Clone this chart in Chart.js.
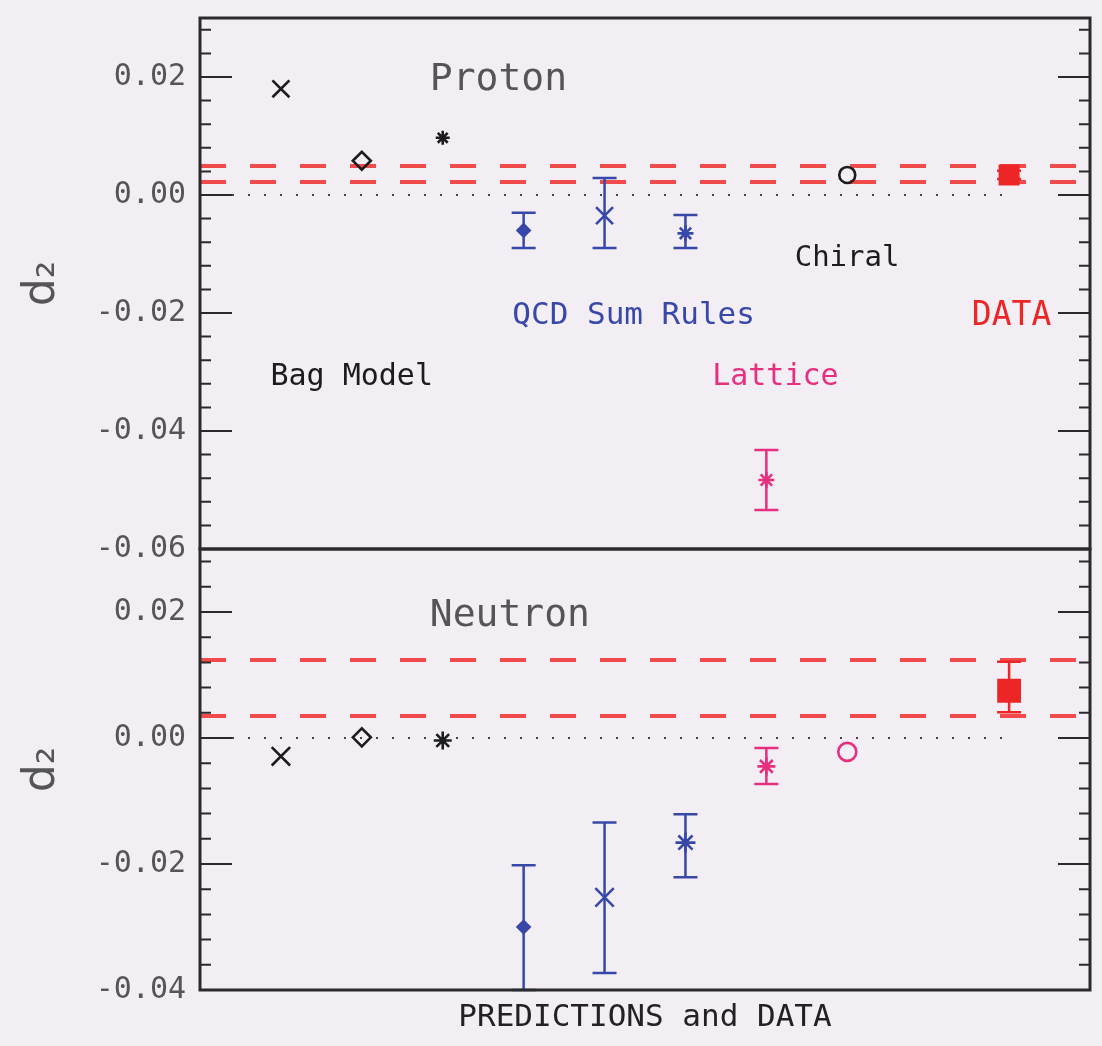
<!DOCTYPE html>
<html>
<head>
<meta charset="utf-8">
<script src="https://cdn.jsdelivr.net/npm/chart.js@4.4.1/dist/chart.umd.min.js"></script>
<style>
body { margin: 0; background: #f2eef4; }
#wrap { position: relative; width: 1102px; height: 1046px; }
canvas { position: absolute; left: 0; }
#top { top: 0; }
#bottom { top: 535px; }
</style>
</head>
<body>
<div id="wrap">
<canvas id="top" width="1102" height="580"></canvas>
<canvas id="bottom" width="1102" height="511"></canvas>
</div>
<script>
// d2 : model predictions vs data, proton (top) and neutron (bottom)

const xPos = [1, 2, 3, 4, 5, 6, 7, 8, 10];
const models = ['Bag A', 'Bag B', 'Bag C', 'QCD SR 1', 'QCD SR 2', 'QCD SR 3', 'Lattice', 'Chiral', 'DATA'];

const protonD2 = [0.0180, 0.0058, 0.0097, -0.0060, -0.0035, -0.0065, -0.0483, 0.0034, 0.0034];
const protonLo = [null, null, null, -0.0090, -0.0090, -0.0090, -0.0534, null, 0.0027];
const protonHi = [null, null, null, -0.0030, 0.0029, -0.0034, -0.0432, null, 0.0041];
const protonBand = [0.0049, 0.0022];

const neutronD2 = [-0.0029, 0.0001, -0.0004, -0.0300, -0.0253, -0.0166, -0.0045, -0.0022, 0.0075];
const neutronLo = [null, null, null, -0.0400, -0.0373, -0.0221, -0.0073, null, 0.0041];
const neutronHi = [null, null, null, -0.0202, -0.0134, -0.0121, -0.0016, null, 0.0121];
const neutronBand = [0.0124, 0.0035];

const topTicks = [-0.06, -0.04, -0.02, 0.00, 0.02];
const bottomTicks = [-0.04, -0.02, 0.00, 0.02];

const BLACK = '#1c1c1c', BLUE = '#3848a8', PINK = '#e6307f', RED = '#ec2626';
const shapes = ['crossRot', 'rectRot', 'star', 'rectRot', 'crossRot', 'star', 'star', 'circle', 'rect'];
const filled = [false, false, false, true, false, false, false, false, true];
const protonColors = [BLACK, BLACK, BLACK, BLUE, BLUE, BLUE, PINK, BLACK, RED];
const neutronColors = [BLACK, BLACK, BLACK, BLUE, BLUE, BLUE, PINK, PINK, RED];
const protonRadius = [12, 9, 7, 6, 12, 8, 8, 8, 13];
const neutronRadius = [13, 9, 9, 6, 13, 10, 9, 9, 15];

const MONO = 'DejaVu Sans Mono';

// error bars, frame, inner ticks and text labels
const panelPlugin = {
  id: 'panel',
  afterDatasetsDraw(chart, args, o) {
    const { ctx, chartArea: a } = chart;
    const x = chart.scales.x, y = chart.scales.y;

    ctx.save();
    ctx.beginPath();
    ctx.rect(a.left, a.top - 2, a.right - a.left, a.bottom - a.top + 4);
    ctx.clip();
    ctx.lineWidth = 2.5;
    o.lo.forEach((lo, i) => {
      if (lo === null) return;
      const px = x.getPixelForValue(xPos[i]);
      const y1 = y.getPixelForValue(lo);
      const y2 = y.getPixelForValue(o.hi[i]);
      ctx.strokeStyle = o.colors[i];
      ctx.beginPath();
      ctx.moveTo(px, y1); ctx.lineTo(px, y2);
      ctx.moveTo(px - 12, y1); ctx.lineTo(px + 12, y1);
      ctx.moveTo(px - 12, y2); ctx.lineTo(px + 12, y2);
      ctx.stroke();
    });
    ctx.restore();

    ctx.save();
    ctx.strokeStyle = '#2a2a2a';
    ctx.lineWidth = 2;
    const step = 0.004;
    for (let k = Math.ceil(y.min / step - 1e-6); k * step <= y.max + 1e-9; k++) {
      const v = k * step;
      const major = Math.abs(v / 0.02 - Math.round(v / 0.02)) < 1e-6;
      const len = major ? 32 : 11;
      const py = y.getPixelForValue(v);
      ctx.beginPath();
      ctx.moveTo(a.left, py); ctx.lineTo(a.left + len, py);
      ctx.moveTo(a.right, py); ctx.lineTo(a.right - len, py);
      ctx.stroke();
    }
    ctx.lineWidth = 3;
    ctx.strokeRect(a.left, a.top, a.right - a.left, a.bottom - a.top);

    ctx.textBaseline = 'middle';
    ctx.textAlign = 'left';
    o.labels.forEach(l => {
      ctx.font = l.size + 'px "' + MONO + '"';
      ctx.fillStyle = l.color;
      ctx.fillText(l.text, x.getPixelForValue(l.x), y.getPixelForValue(l.y));
    });
    ctx.restore();
  }
};

function markerSet(values, colors, radius) {
  return {
    data: xPos.map((v, i) => ({ x: v, y: values[i] })),
    pointStyle: shapes,
    pointRadius: radius,
    pointBorderColor: colors,
    pointBackgroundColor: colors.map((c, i) => filled[i] ? c : 'rgba(0,0,0,0)'),
    pointBorderWidth: 2.6,
    showLine: false
  };
}

function bandLine(v) {
  return {
    type: 'line',
    data: [{ x: 0, y: v }, { x: 11, y: v }],
    borderColor: '#f04a4a',
    borderWidth: 4,
    borderDash: [26, 24],
    pointRadius: 0
  };
}

function zeroLine() {
  return {
    type: 'line',
    data: [{ x: 0, y: 0 }, { x: 10, y: 0 }],
    borderColor: '#444',
    borderWidth: 2,
    borderDash: [2, 14],
    pointRadius: 0
  };
}

function yAxis(min, max, ticks) {
  return {
    min: min, max: max,
    afterFit: s => { s.width = 200; s.paddingTop = 0; s.paddingBottom = 0; },
    afterBuildTicks: s => { s.ticks = ticks.map(v => ({ value: v })); },
    grid: { display: false, drawTicks: false },
    border: { display: false },
    ticks: {
      callback: v => v.toFixed(2),
      font: { family: MONO, size: 30 },
      color: '#555',
      padding: 14
    },
    title: {
      display: true, text: 'd₂',
      font: { family: 'DejaVu Sans', size: 44 },
      color: '#555',
      padding: { top: 16, bottom: 0 }
    }
  };
}

const commonOpts = {
  responsive: false,
  animation: false,
  plugins: { legend: { display: false }, tooltip: { enabled: false } }
};

new Chart(document.getElementById('top'), {
  type: 'scatter',
  data: {
    datasets: [
      markerSet(protonD2, protonColors, protonRadius),
      bandLine(protonBand[0]),
      bandLine(protonBand[1]),
      zeroLine()
    ]
  },
  options: {
    ...commonOpts,
    layout: { autoPadding: false, padding: { top: 18, right: 12, bottom: 31, left: 0 } },
    scales: {
      x: { type: 'linear', min: 0, max: 11, display: false },
      y: yAxis(-0.06, 0.03, topTicks)
    },
    plugins: {
      ...commonOpts.plugins,
      panel: {
        lo: protonLo, hi: protonHi, colors: protonColors,
        labels: [
          { text: 'Proton', x: 2.84, y: 0.0195, color: '#555', size: 38 },
          { text: 'Chiral', x: 7.35, y: -0.0107, color: BLACK, size: 29 },
          { text: 'QCD Sum Rules', x: 3.86, y: -0.0205, color: BLUE, size: 31 },
          { text: 'DATA', x: 9.54, y: -0.0205, color: RED, size: 33 },
          { text: 'Bag Model', x: 0.87, y: -0.0308, color: BLACK, size: 30 },
          { text: 'Lattice', x: 6.33, y: -0.0308, color: PINK, size: 30 }
        ]
      }
    }
  },
  plugins: [panelPlugin]
});

new Chart(document.getElementById('bottom'), {
  type: 'scatter',
  data: {
    datasets: [
      markerSet(neutronD2, neutronColors, neutronRadius),
      bandLine(neutronBand[0]),
      bandLine(neutronBand[1]),
      zeroLine()
    ]
  },
  options: {
    ...commonOpts,
    layout: { autoPadding: false, padding: { top: 14, right: 12, bottom: 0, left: 0 } },
    scales: {
      x: {
        type: 'linear', min: 0, max: 11,
        afterFit: s => { s.height = 56; },
        grid: { display: false, drawTicks: false },
        border: { display: false },
        ticks: { display: false },
        title: {
          display: true, text: 'PREDICTIONS and DATA',
          font: { family: MONO, size: 31 },
          color: '#222',
          padding: { top: 0, bottom: 9 }
        }
      },
      y: yAxis(-0.04, 0.03, bottomTicks)
    },
    plugins: {
      ...commonOpts.plugins,
      panel: {
        lo: neutronLo, hi: neutronHi, colors: neutronColors,
        labels: [
          { text: 'Neutron', x: 2.84, y: 0.0194, color: '#555', size: 38 }
        ]
      }
    }
  },
  plugins: [panelPlugin]
});
</script>
</body>
</html>
